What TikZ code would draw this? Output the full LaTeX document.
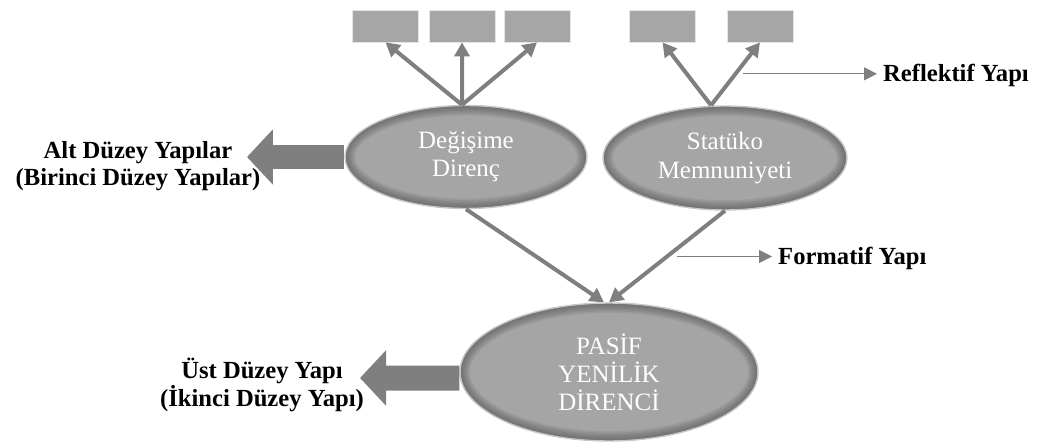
\documentclass[tikz,border=0pt]{standalone}
\usepackage{fontspec}
\setmainfont{Liberation Serif}
\usepackage{tikz}
\definecolor{kutu}{HTML}{A6A6A6}
\definecolor{elips}{HTML}{A5A5A5}
\definecolor{kenar}{HTML}{4A4A4A}
\definecolor{ok}{HTML}{7F7F7F}
\usetikzlibrary{shapes.geometric,arrows.meta,calc}
\tikzset{kutucuk/.style={
    rectangle,
    fill=kutu,
    draw=white!80!gray,
    line width=0.4pt,
    minimum width=1.32cm,
    minimum height=0.64cm}}
\tikzset{elipsdugum/.style={
    ellipse,
    fill=elips,
    draw=gray!45,
    line width=0.8pt,
    inner sep=0pt,
    text=white,
    font=\fontsize{14.2}{16}\selectfont,
    path picture={
      \foreach \k in {1,...,7}
        \draw[kenar, opacity=0.1, line width=\k*1.6pt]
          let \p1=($(path picture bounding box.north east)-(path picture bounding box.center)$)
          in (path picture bounding box.center) ellipse [x radius=\x1, y radius=\y1];
    }}}
\tikzset{kalinok/.style={
    -{Triangle[length=0.28cm,width=0.3cm]},
    draw=ok,
    line width=0.08cm}}
\tikzset{inceok/.style={
    -{Triangle[length=0.26cm,width=0.26cm]},
    draw=ok,
    line width=0.7pt}}
\tikzset{blokok/.style={
    -{Triangle[length=0.52cm,width=1.08cm]},
    draw=ok,
    line width=0.5cm}}
\tikzset{etiket/.style={
    font=\bfseries\fontsize{14}{15.5}\selectfont,
    align=center}}

\begin{document}
\begin{tikzpicture}[x=0.02cm, y=-0.02cm]
  \useasboundingbox (0,0) rectangle (1047,446);

\node[kutucuk] (b1) at (385.5,26) {};
\node[kutucuk] (b2) at (462,26) {};
\node[kutucuk] (b3) at (537,26) {};
\node[kutucuk] (b4) at (662.5,26) {};
\node[kutucuk] (b5) at (760,26) {};

\node[elipsdugum,
  minimum width=4.84cm,
  minimum height=2.06cm] (e1) at (466,157) {\raisebox{-3pt}{\parbox{2.8cm}{\centering Değişime\\Direnç}}};

\node[elipsdugum,
  minimum width=4.88cm,
  minimum height=2.08cm] (e2) at (725,158) {\raisebox{-3pt}{\parbox{2.8cm}{\centering Statüko\\Memnuniyeti}}};

\node[elipsdugum,
  minimum width=5.96cm,
  minimum height=2.76cm] (e3) at (609,372) {\raisebox{-3pt}{\parbox{2.4cm}{\centering PASİF\\YENİLİK\\DİRENCİ}}};

\node[etiket] (alt) at (138,166) {Alt Düzey Yapılar\\(Birinci Düzey Yapılar)};
\node[etiket] (ust) at (262,385) {Üst Düzey Yapı\\(İkinci Düzey Yapı)};
\node[etiket, anchor=west] (refl) at (877,75) {Reflektif Yapı};
\node[etiket, anchor=west] (form) at (772,258) {Formatif Yapı};

\coordinate (alttip) at (247,157);
\coordinate (usttip) at (360,378);

  \draw[kalinok] ([xshift=-0.08cm]e1.north) -- (b1.south);
  \draw[kalinok] ([xshift=-0.08cm]e1.north) -- (b2.south);
  \draw[kalinok] ([xshift=-0.08cm]e1.north) -- (b3.south);
  \draw[kalinok] ([xshift=-0.28cm]e2.north) -- (b4.south);
  \draw[kalinok] ([xshift=-0.28cm]e2.north) -- coordinate[pos=0.5] (rorta) (b5.south);
  \draw[kalinok] (e1.south) -- ([xshift=-0.1cm]e3.north);
  \draw[kalinok] (e2.south) -- coordinate[pos=0.5] (forta) (e3.north);

  \draw[inceok] ([xshift=0.15cm]rorta) -- (rorta -| refl.west);
  \draw[inceok] ([xshift=0.2cm]forta) -- (forta -| form.west);

  \draw[blokok] (e1.west) -- (alttip);
  \draw[blokok] ([yshift=-0.12cm]e3.west) -- (usttip);
\end{tikzpicture}
\end{document}
